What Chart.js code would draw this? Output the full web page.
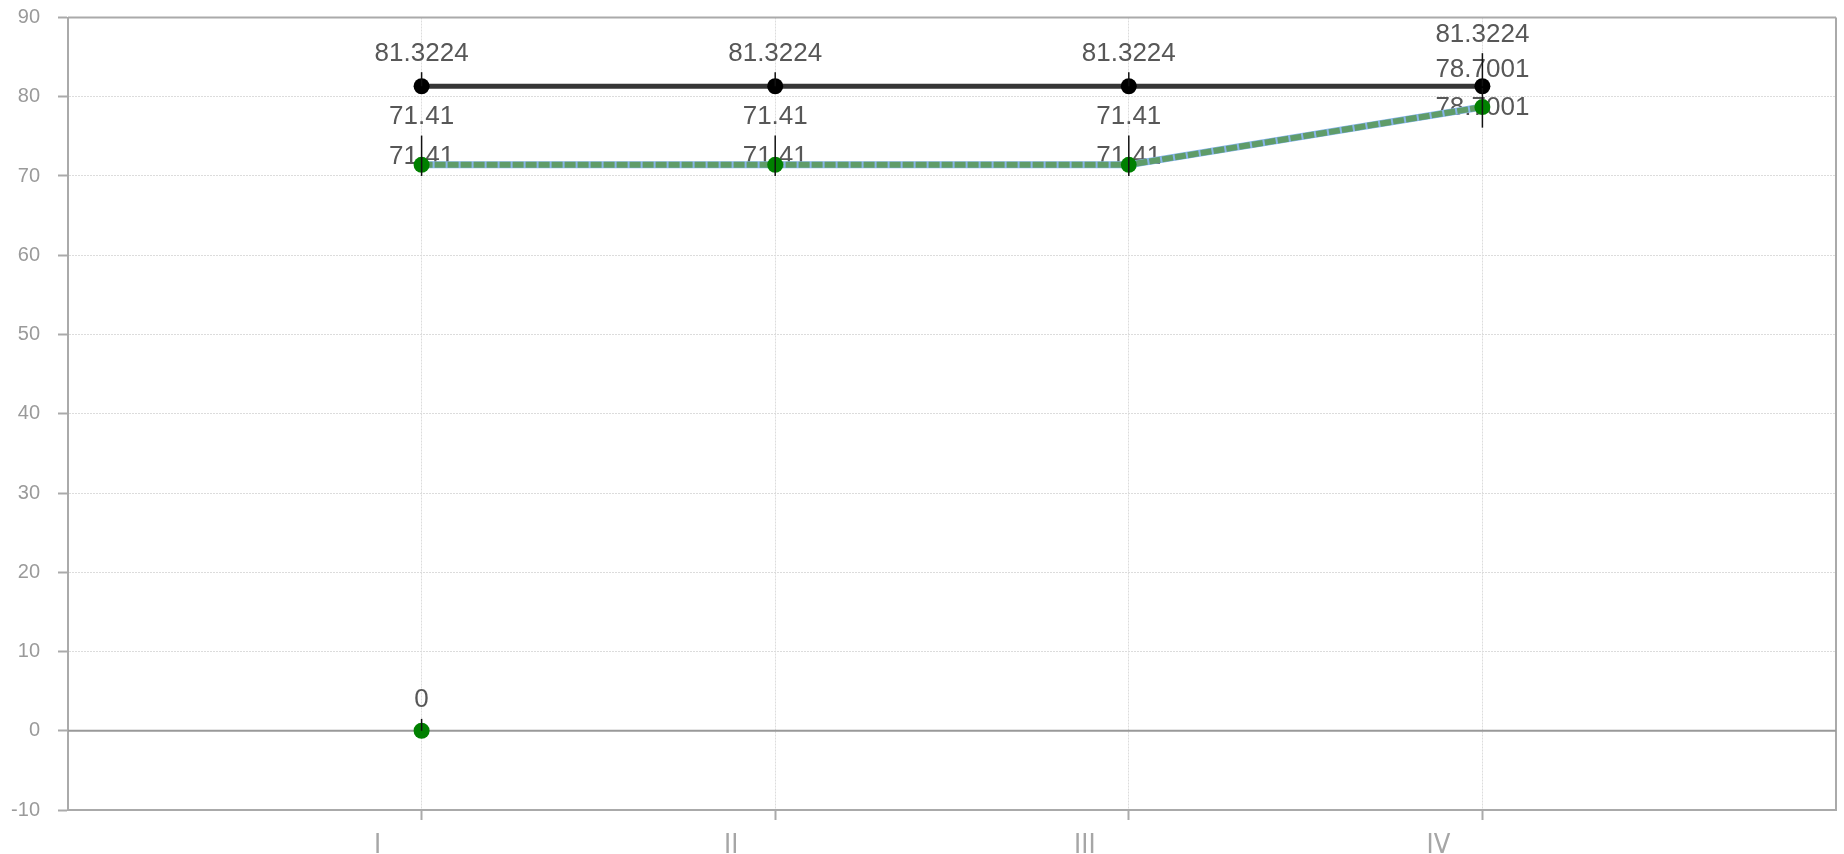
<!DOCTYPE html>
<html>
<head>
<meta charset="utf-8">
<script src="https://cdn.jsdelivr.net/npm/chart.js@4/dist/chart.umd.min.js"></script>
<style>
  body { margin: 0; background: #fff; }
  canvas { display: block; }
</style>
</head>
<body>
<canvas id="chart" width="1844" height="854"></canvas>
<script>
// chart values
const categories = ['I', 'II', 'III', 'IV'];
const baselineValues = [81.3224, 81.3224, 81.3224, 81.3224];
const baselineHigh = [83.1, 83.1, 83.1, 85.5];
const observedValues = [71.41, 71.41, 71.41, 78.7001];
const observedLow = [70.0, 70.0, 70.0, 76.1];
const observedHigh = [75.1, 75.1, 75.1, 81.1];
const zeroValues = [0, null, null, null];
const zeroHigh = [1.5, null, null, null];

// the axis has an empty slot on each side of the categories
function pad(arr) {
  return [null, ...arr, null];
}

// frame lines (top, right, zero) plus value labels under the lines
// and error bars over the points
const errorBarPlugin = {
  id: 'errorBars',
  beforeDatasetsDraw(chart) {
    const ctx = chart.ctx;
    const x = chart.scales.x;
    const y = chart.scales.y;
    const area = chart.chartArea;

    ctx.save();
    ctx.lineWidth = 2;
    ctx.strokeStyle = '#aaa';
    ctx.beginPath();
    ctx.moveTo(area.left, y.getPixelForValue(y.max));
    ctx.lineTo(area.right, y.getPixelForValue(y.max));
    ctx.moveTo(x.getPixelForValue(categories.length + 1), area.top);
    ctx.lineTo(x.getPixelForValue(categories.length + 1), area.bottom);
    ctx.stroke();
    ctx.strokeStyle = '#999';
    ctx.beginPath();
    ctx.moveTo(area.left, y.getPixelForValue(0));
    ctx.lineTo(area.right, y.getPixelForValue(0));
    ctx.stroke();

    ctx.font = '26px "Liberation Sans", Arial, sans-serif';
    ctx.fillStyle = '#575757';
    ctx.textAlign = 'center';
    ctx.textBaseline = 'alphabetic';
    chart.data.datasets.forEach(ds => {
      if (!ds.errHigh) return;
      ds.data.forEach((v, i) => {
        if (v === null) return;
        const px = x.getPixelForValue(i);
        ctx.fillText(String(v), px, y.getPixelForValue(ds.errHigh[i]) - 11.5);
        if (ds.errLow) {
          ctx.fillText(String(v), px, y.getPixelForValue(ds.errLow[i]) - 12.5);
        }
      });
    });
    ctx.restore();
  },
  afterDatasetsDraw(chart) {
    const ctx = chart.ctx;
    const x = chart.scales.x;
    const y = chart.scales.y;
    ctx.save();
    ctx.strokeStyle = '#111';
    ctx.lineWidth = 1.5;
    chart.data.datasets.forEach(ds => {
      if (!ds.errHigh) return;
      ds.data.forEach((v, i) => {
        if (v === null) return;
        const px = x.getPixelForValue(i);
        const low = ds.errLow ? ds.errLow[i] : v;
        ctx.beginPath();
        ctx.moveTo(px, y.getPixelForValue(low));
        ctx.lineTo(px, y.getPixelForValue(ds.errHigh[i]));
        ctx.stroke();
      });
    });
    ctx.restore();
  }
};

const chartData = {
  labels: pad(categories),
  datasets: [{
    label: 'baseline',
    data: pad(baselineValues),
    errHigh: pad(baselineHigh),
    borderColor: '#363636',
    borderWidth: 5,
    pointRadius: 8,
    pointBackgroundColor: '#000',
    pointBorderColor: '#000',
    pointBorderWidth: 0
  }, {
    label: 'observed',
    data: pad(observedValues),
    errLow: pad(observedLow),
    errHigh: pad(observedHigh),
    borderColor: '#5f9c69',
    borderWidth: 6,
    borderDash: [11, 2],
    pointRadius: 8,
    pointBackgroundColor: '#008000',
    pointBorderColor: '#008000',
    pointBorderWidth: 0
  }, {
    label: 'trend',
    data: pad(observedValues),
    borderColor: '#86b4e8',
    borderWidth: 7,
    pointRadius: 0
  }, {
    label: 'zero',
    data: pad(zeroValues),
    errHigh: pad(zeroHigh),
    showLine: false,
    pointRadius: 8,
    pointBackgroundColor: '#008000',
    pointBorderColor: '#008000',
    pointBorderWidth: 0
  }]
};

const yTickFont = { family: '"Liberation Sans", Arial, sans-serif', size: 20 };
const xTickFont = { family: '"Liberation Sans Narrow", "DejaVu Sans Condensed", sans-serif', size: 27 };

const chartConfigs = {
  type: 'line',
  data: chartData,
  plugins: [errorBarPlugin],
  options: {
    responsive: false,
    animation: false,
    layout: { padding: { top: 17.5, right: 2, bottom: 0, left: 0 } },
    plugins: {
      legend: { display: false },
      tooltip: { enabled: false }
    },
    scales: {
      x: {
        type: 'category',
        offset: false,
        afterFit: s => { s.height = 44; },
        ticks: {
          color: '#a6a6a6',
          font: xTickFont,
          autoSkip: false,
          maxRotation: 0,
          padding: 10,
          labelOffset: -44
        },
        grid: {
          color: '#dcdcdc',
          lineWidth: 1,
          tickColor: '#aaa',
          tickWidth: 2,
          tickLength: 10,
          tickBorderDash: []
        },
        border: { color: '#aaa', width: 2, dash: [2, 1] }
      },
      y: {
        min: -10,
        max: 90,
        afterFit: s => {
          s.width = 68;
          s.paddingTop = 0;
          s.paddingBottom = 0;
        },
        ticks: {
          stepSize: 10,
          color: '#9a9a9a',
          font: yTickFont,
          padding: 18
        },
        grid: {
          color: '#dcdcdc',
          lineWidth: 1,
          tickColor: '#aaa',
          tickWidth: 2,
          tickLength: 10,
          tickBorderDash: []
        },
        border: { color: '#aaa', width: 2, dash: [2, 1] }
      }
    }
  }
};

new Chart(document.getElementById('chart'), chartConfigs);
</script>
</body>
</html>
